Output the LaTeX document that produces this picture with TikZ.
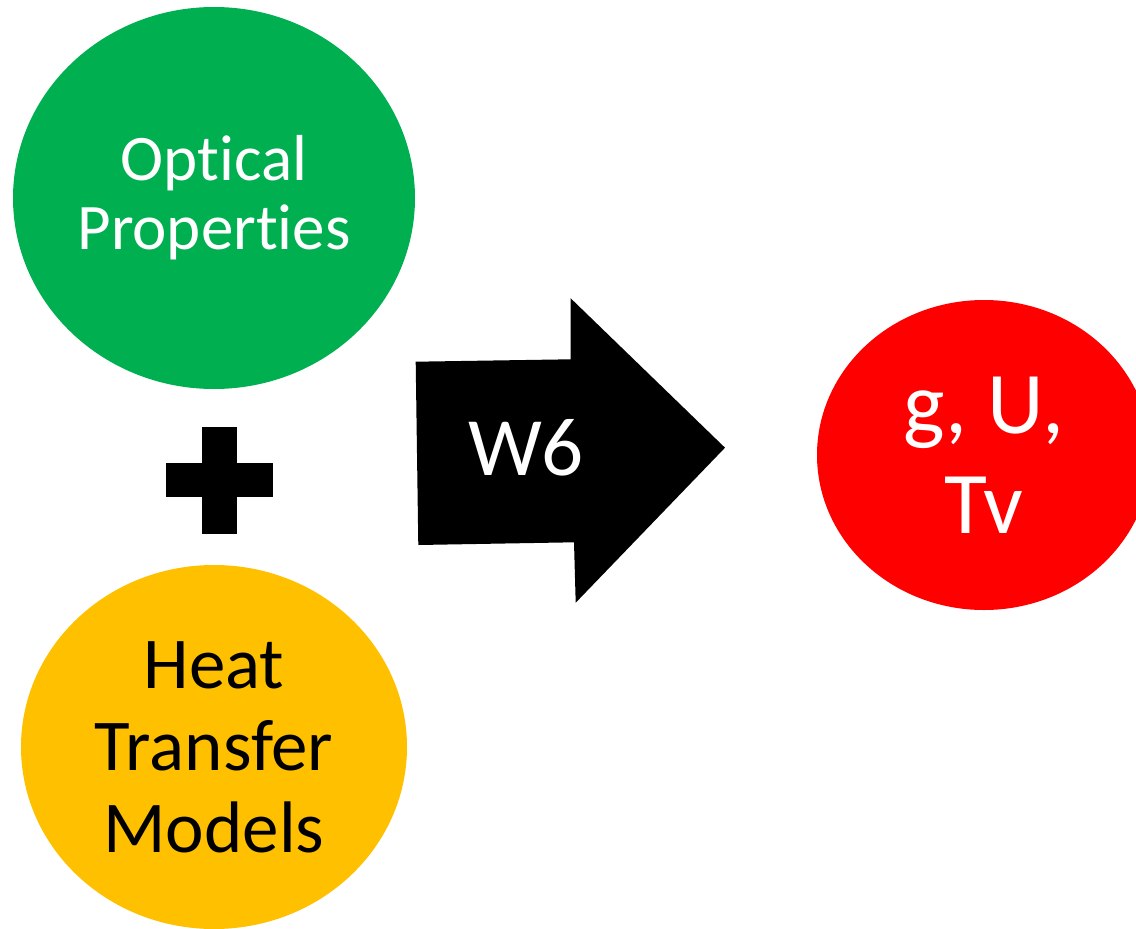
\documentclass[tikz,border=0pt]{standalone}
\usepackage{fontspec}
\setmainfont{Carlito}[Ligatures=NoCommon]
\usetikzlibrary{shapes.geometric}
\definecolor{optgreen}{HTML}{00B050}
\definecolor{heatyellow}{HTML}{FFC000}
\definecolor{outred}{HTML}{FF0000}
\begin{document}
\begin{tikzpicture}[x=1pt,y=-1pt,line join=round,
	blob/.style={ellipse,inner sep=0pt,align=center}]
		\useasboundingbox (0,0) rectangle (1136,929);
		\clip (0,0) rectangle (1136,929);
		\node[blob,fill=optgreen,text=white,minimum width=402,minimum height=382,
			font=\fontsize{65}{69}\selectfont] (optical) at (214,198) {Optical\\Properties};
		\node[blob,fill=heatyellow,text=black,minimum width=386,minimum height=364,
			font=\fontsize{73}{82}\selectfont] (heat) at (214,747) {Heat\\Transfer\\Models};
		\node[blob,fill=outred,text=white,minimum width=334,minimum height=310,
			font=\fontsize{88}{100}\selectfont] (result) at (984,455) {g, U,\\Tv};
		% plus sign
		\fill (202,427) rectangle (237,534);
		\fill (166,463) rectangle (273,497);
		% block arrow
		\fill (415.7,361.7)--(570.7,359.3)--(570.7,298.3)--(725,447.7)--(575.7,602.7)--(574,542.3)--(418.3,545)--cycle;
		\node[text=white,font=\fontsize{83}{90}\selectfont] (w6) at (526,448) {W6};
\end{tikzpicture}
\end{document}
